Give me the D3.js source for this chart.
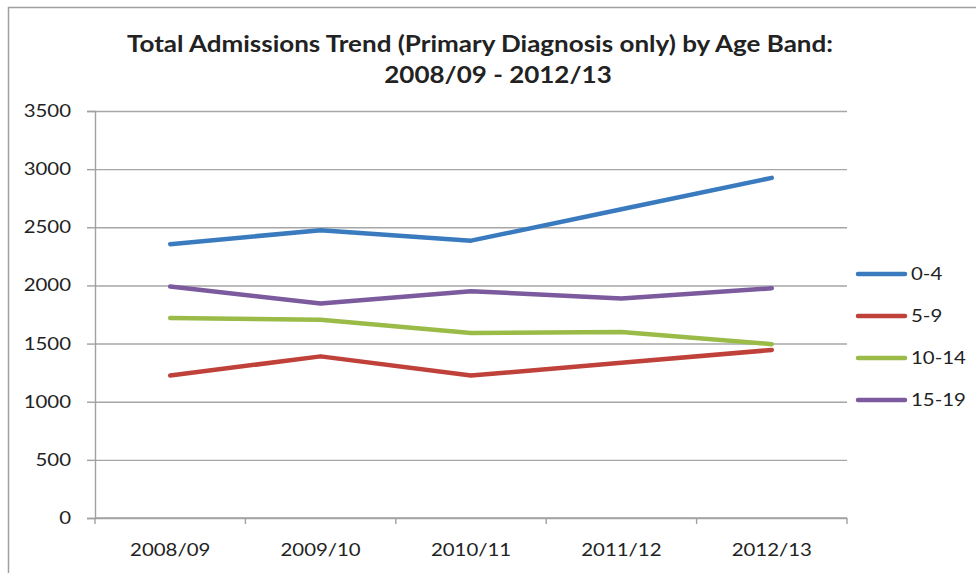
<!DOCTYPE html>
<html>
<head>
<meta charset="utf-8">
<script src="https://cdn.jsdelivr.net/npm/d3@7"></script>
<style>
  html, body { margin: 0; padding: 0; background: #fff; }
  svg { display: block; }
  text { font-family: Lato, "Open Sans", sans-serif; fill: #222; }
</style>
</head>
<body>
<div id="chart"></div>
<script>
"use strict";

// ─── Data ─────────────────────────────────────────────────────────────────────
const years = ["2008/09", "2009/10", "2010/11", "2011/12", "2012/13"];
const bands = ["0-4", "5-9", "10-14", "15-19"];

const age0to4   = [2355, 2475, 2385, 2655, 2925];
const age5to9   = [1225, 1390, 1225, 1335, 1445];
const age10to14 = [1720, 1705, 1590, 1600, 1495];
const age15to19 = [1990, 1845, 1950, 1888, 1976];

const yTicks = [0, 500, 1000, 1500, 2000, 2500, 3000, 3500];

const titleLines = [
  "Total Admissions Trend (Primary Diagnosis only) by Age Band:",
  "2008/09 - 2012/13",
];

const colors = ["#3a7bbf", "#c0403a", "#9abb47", "#7b5a9e"];

const series = bands.map((name, i) => ({
  name,
  color: colors[i],
  values: [age0to4, age5to9, age10to14, age15to19][i],
}));

// ─── Layout ───────────────────────────────────────────────────────────────────
const W = 976, H = 573;
const plot = { left: 95, right: 847, top: 111, bottom: 518 };
const STRETCH = 1.2;       // source text renders wide, stretch glyphs to match
const TITLE_STRETCH = 1.13;

const svg = d3.select("#chart").append("svg")
  .attr("width", W)
  .attr("height", H);

// outer chart frame (runs off the right and bottom of the picture)
svg.append("rect")
  .attr("x", 8.5).attr("y", 7.5)
  .attr("width", W + 20).attr("height", H + 20)
  .attr("fill", "none")
  .attr("stroke", "#a0a0a0")
  .attr("stroke-width", 1.5);

function stretchText(sel, factor) {
  sel.each(function () {
    const len = this.getComputedTextLength();
    d3.select(this)
      .attr("textLength", len * factor)
      .attr("lengthAdjust", "spacingAndGlyphs");
  });
}

// ─── Title ────────────────────────────────────────────────────────────────────
svg.append("text")
  .attr("x", 480).attr("y", 52)
  .attr("text-anchor", "middle")
  .attr("font-size", 23).attr("font-weight", 700)
  .text(titleLines[0])
  .call(stretchText, TITLE_STRETCH);

svg.append("text")
  .attr("x", 498).attr("y", 83)
  .attr("text-anchor", "middle")
  .attr("font-size", 23).attr("font-weight", 700)
  .text(titleLines[1])
  .call(stretchText, TITLE_STRETCH);

// ─── Scales ───────────────────────────────────────────────────────────────────
const x = d3.scaleBand().domain(years).range([plot.left, plot.right]);
const y = d3.scaleLinear().domain([0, 3500]).range([plot.bottom, plot.top]);
const cx = (d) => x(d) + x.bandwidth() / 2;

// gridlines
svg.append("g")
  .attr("transform", `translate(${plot.left},0)`)
  .call(d3.axisLeft(y).tickValues(yTicks).tickSize(-(plot.right - plot.left)).tickFormat(""))
  .call((g) => g.select(".domain").remove())
  .call((g) => g.selectAll("line").attr("stroke", "#a6a6a6").attr("stroke-width", 1.4));

// y axis
const yAxis = svg.append("g")
  .attr("transform", `translate(${plot.left},0)`)
  .call(d3.axisLeft(y).tickValues(yTicks).tickFormat(d3.format("d")).tickSize(8).tickPadding(16));
yAxis.select(".domain").attr("stroke", "#a0a0a0").attr("stroke-width", 1.4);
yAxis.selectAll("line").attr("stroke", "#a0a0a0").attr("stroke-width", 1.4);
yAxis.selectAll("text")
  .attr("font-size", 17).attr("font-family", null).attr("fill", null)
  .call(stretchText, STRETCH);

// x axis: labels centred in bands, tick marks on band edges
const xAxis = svg.append("g")
  .attr("transform", `translate(0,${plot.bottom})`)
  .call(d3.axisBottom(x).tickSize(0).tickPadding(26));
xAxis.select(".domain").remove();
xAxis.selectAll("text")
  .attr("font-size", 17).attr("font-family", null).attr("fill", null)
  .call(stretchText, STRETCH);

const edges = years.map((d) => x(d)).concat([x.range()[1]]);
svg.append("g")
  .selectAll("line")
  .data(edges)
  .join("line")
  .attr("x1", (d) => d).attr("x2", (d) => d)
  .attr("y1", plot.bottom).attr("y2", plot.bottom + 6)
  .attr("stroke", "#a0a0a0").attr("stroke-width", 1.4);

svg.append("line")
  .attr("x1", plot.left).attr("x2", plot.right)
  .attr("y1", plot.bottom).attr("y2", plot.bottom)
  .attr("stroke", "#a0a0a0").attr("stroke-width", 1.4);

// ─── Lines ────────────────────────────────────────────────────────────────────
const line = d3.line()
  .x((d, i) => cx(years[i]))
  .y((d) => y(d));

svg.append("g")
  .selectAll("path")
  .data(series)
  .join("path")
  .attr("d", (d) => line(d.values))
  .attr("fill", "none")
  .attr("stroke", (d) => d.color)
  .attr("stroke-width", 4.5)
  .attr("stroke-linecap", "round")
  .attr("stroke-linejoin", "round");

// ─── Legend ───────────────────────────────────────────────────────────────────
const legend = svg.append("g")
  .selectAll("g")
  .data(series)
  .join("g")
  .attr("transform", (d, i) => `translate(858,${274 + i * 42})`);

legend.append("line")
  .attr("x1", 0).attr("x2", 47)
  .attr("stroke", (d) => d.color)
  .attr("stroke-width", 4.5)
  .attr("stroke-linecap", "round");

legend.append("text")
  .attr("x", 53).attr("dy", "0.35em")
  .attr("font-size", 17)
  .text((d) => d.name)
  .call(stretchText, STRETCH);
</script>
</body>
</html>
